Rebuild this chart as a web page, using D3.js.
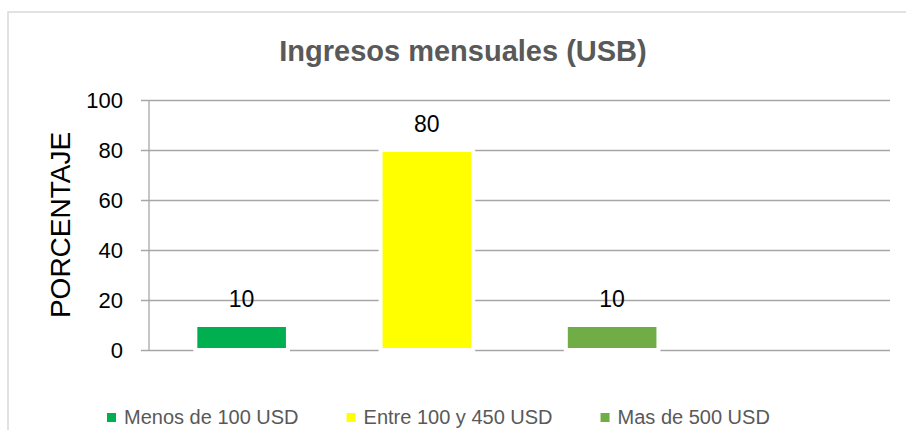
<!DOCTYPE html>
<html>
<head>
<meta charset="utf-8">
<script src="https://cdn.jsdelivr.net/npm/d3@7"></script>
<style>
  body { margin: 0; background: #fff; }
  svg { display: block; font-family: "Liberation Sans", Arial, sans-serif; }
</style>
</head>
<body>
<script>
'use strict'

// chart data
const categories = ['Menos de 100 USD', 'Entre 100 y 450 USD', 'Mas de 500 USD', '']
const values = [10, 80, 10, null]
const colors = ['#00B050', '#FFFF00', '#70AD47', '#ffffff']
const yTicks = [0, 20, 40, 60, 80, 100]
const title = 'Ingresos mensuales (USB)'
const yTitle = 'PORCENTAJE'

const W = 906, H = 430
const margin = {top: 100, right: 16, bottom: 80, left: 149}

const svg = d3.select('body').append('svg')
  .attr('width', W)
  .attr('height', H)

// outer chart border (runs off the right and bottom edge)
svg.append('rect')
  .attr('x', 8).attr('y', 12)
  .attr('width', W).attr('height', H)
  .attr('fill', 'none')
  .attr('stroke', '#d9d9d9')
  .attr('stroke-width', 1.5)

const x = d3.scaleBand()
  .domain(d3.range(categories.length))
  .range([margin.left, W - margin.right])
  .paddingInner(0.5)
  .paddingOuter(0.25)

const y = d3.scaleLinear()
  .domain([0, 100])
  .range([H - margin.bottom, margin.top])

// title
svg.append('text')
  .attr('x', 463)
  .attr('y', 61)
  .attr('text-anchor', 'middle')
  .attr('font-size', 29)
  .attr('font-weight', 'bold')
  .attr('fill', '#595959')
  .text(title)

// y axis + gridlines
const yAxis = d3.axisLeft(y)
  .tickValues(yTicks)
  .tickSize(-(W - margin.right - margin.left))
  .tickPadding(26)

const gy = svg.append('g')
  .attr('transform', 'translate(' + margin.left + ',0)')
  .call(yAxis)

gy.select('.domain').remove()
gy.selectAll('.tick line')
  .attr('stroke', '#a6a6a6')
  .attr('stroke-width', 1.3)
  .attr('x1', -8)
gy.selectAll('.tick text')
  .attr('font-size', 22)
  .attr('fill', '#000')
  .attr('font-family', '"Liberation Sans", Arial, sans-serif')

// vertical axis line
svg.append('line')
  .attr('x1', margin.left).attr('x2', margin.left)
  .attr('y1', y(100)).attr('y2', y(0))
  .attr('stroke', '#a6a6a6')
  .attr('stroke-width', 1.3)

// axis title
svg.append('text')
  .attr('transform', 'translate(70,' + ((y(0) + y(100)) / 2) + ') rotate(-90)')
  .attr('text-anchor', 'middle')
  .attr('font-size', 28)
  .attr('fill', '#000')
  .text(yTitle)

// bars
const data = categories.map((c, i) => ({name: c, value: values[i], color: colors[i], i: i}))
  .filter(d => d.value != null)

svg.append('g')
  .selectAll('rect')
  .data(data)
  .enter()
  .append('rect')
  .attr('x', d => x(d.i))
  .attr('width', x.bandwidth())
  .attr('y', d => y(d.value))
  .attr('height', d => y(0) - y(d.value))
  .attr('fill', d => d.color)
  .attr('stroke', '#fff')
  .attr('stroke-width', 4)

// value labels
svg.append('g')
  .selectAll('text')
  .data(data)
  .enter()
  .append('text')
  .attr('x', d => x(d.i) + x.bandwidth() / 2)
  .attr('y', d => y(d.value) - 18)
  .attr('text-anchor', 'middle')
  .attr('font-size', 23)
  .attr('fill', '#000')
  .text(d => d.value)

// legend
const legend = svg.append('g')
  .attr('transform', 'translate(107,424)')

let lx = 0
data.forEach(d => {
  const item = legend.append('g').attr('transform', 'translate(' + lx + ',0)')
  item.append('rect')
    .attr('x', 0).attr('y', -11)
    .attr('width', 9).attr('height', 9)
    .attr('fill', d.color)
  const t = item.append('text')
    .attr('x', 17)
    .attr('font-size', 20)
    .attr('fill', '#595959')
    .text(d.name)
  lx += 17 + t.node().getComputedTextLength() + 48
})
</script>
</body>
</html>
